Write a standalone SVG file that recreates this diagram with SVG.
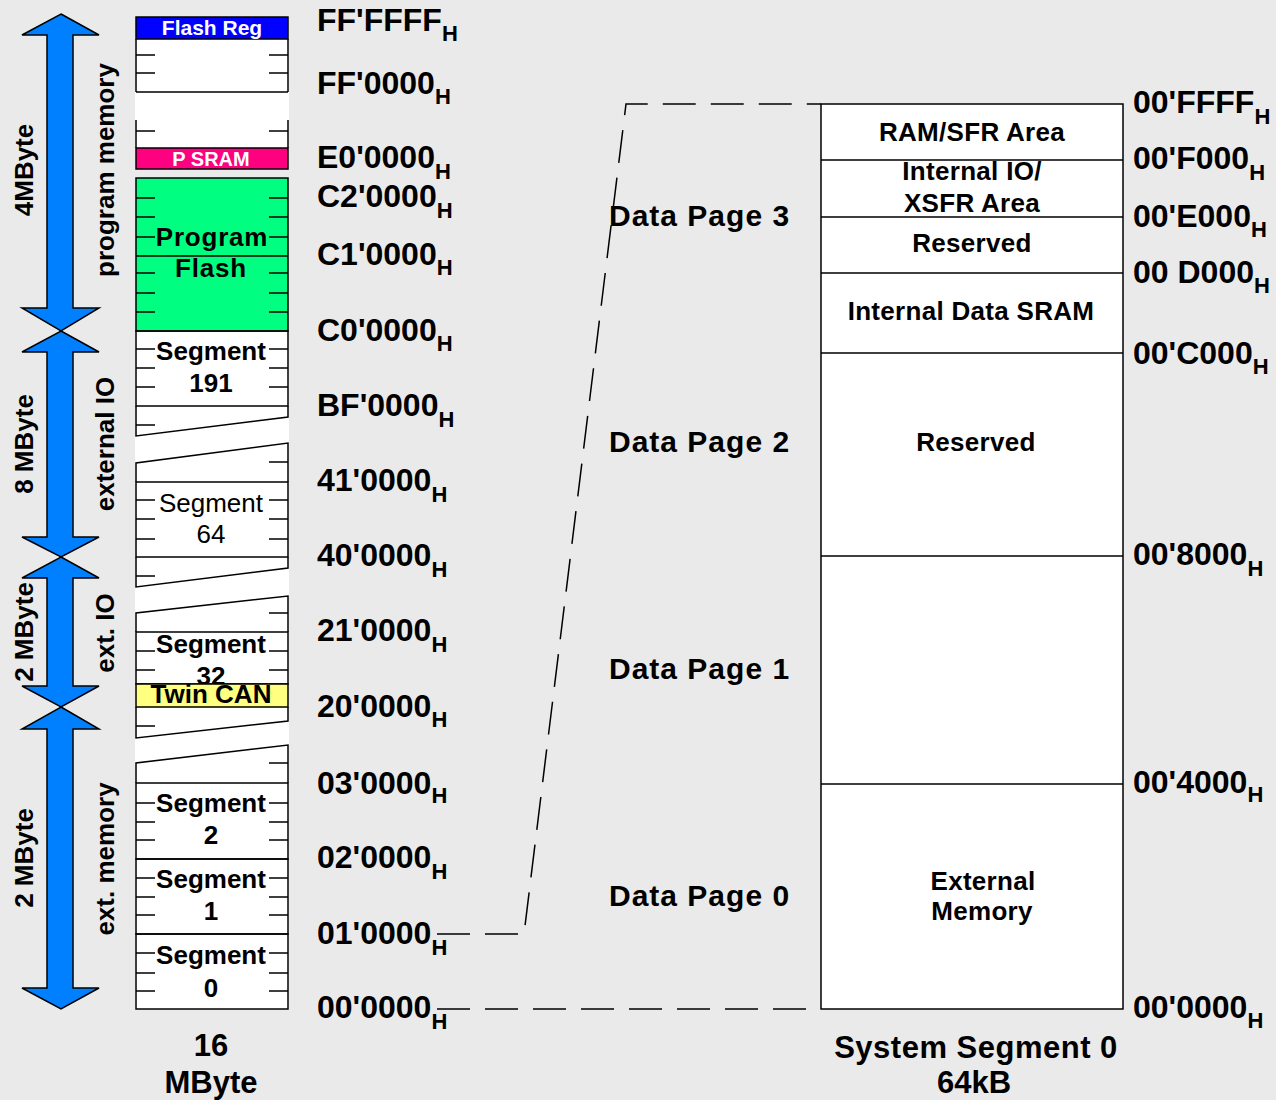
<svg xmlns="http://www.w3.org/2000/svg" width="1276" height="1100" viewBox="0 0 1276 1100">
<style>
text{font-family:"Liberation Sans",Arial,sans-serif;font-weight:bold;fill:#000}
.addr{font-size:32px}
.sub{font-size:22px}
.seg{font-size:26px;text-anchor:middle}
.reg{font-weight:normal}
.box{font-size:26px;text-anchor:middle;letter-spacing:0.3px}
.page{font-size:30px;letter-spacing:1px}
.side{font-size:26px;text-anchor:middle}
.ln{stroke:#000;stroke-width:1.5;fill:none}
.arrow{fill:#0080FF;stroke:#000;stroke-width:1.5;stroke-linejoin:miter}
.dash{stroke:#000;stroke-width:1.5;fill:none;stroke-dasharray:33 15}
</style>
<rect x="0" y="0" width="1276" height="1100" fill="#EAEAEA"/>

<g id="arrows">
<polygon class="arrow" points="61,14 99,35 73,35 73,308 99,308 61,331 22,308 47,308 47,35 22,35"/>
<polygon class="arrow" points="61,331 99,352 73,352 73,537 99,537 61,557 22,537 47,537 47,352 22,352"/>
<polygon class="arrow" points="61,557 99,578 73,578 73,686 99,686 61,707 22,686 47,686 47,578 22,578"/>
<polygon class="arrow" points="61,707 99,729 73,729 73,988 99,988 61,1009 22,988 47,988 47,729 22,729"/>
</g>

<g id="side-labels">
<text class="side" transform="translate(33,170) rotate(-90)">4MByte</text>
<text class="side" transform="translate(114,170) rotate(-90)">program memory</text>
<text class="side" transform="translate(33,444) rotate(-90)">8 MByte</text>
<text class="side" transform="translate(114,444) rotate(-90)">external IO</text>
<text class="side" transform="translate(33,632) rotate(-90)">2 MByte</text>
<text class="side" transform="translate(114,633) rotate(-90)">ext. IO</text>
<text class="side" transform="translate(33,858) rotate(-90)">2 MByte</text>
<text class="side" transform="translate(114,859) rotate(-90)">ext. memory</text>
</g>

<g id="memory-16MB">
<rect x="135" y="39" width="154" height="130" fill="#fff"/>
<rect x="135" y="331" width="154" height="678" fill="#fff"/>
<g id="flash-reg">
<rect x="136" y="17" width="152" height="22" fill="#0000FF" class="ln" style="fill:#0000FF"/>
<text x="212" y="35" style="font-size:21px;fill:#fff;text-anchor:middle">Flash Reg</text>
</g>
<g id="top-area">
<path class="ln" d="M136,39 V92 M288,39 V92 M136,92 H288 M136,120 V148 M288,120 V148"/>
<path class="ln" d="M136,55 h19 M269,55 h19 M136,73 h19 M269,73 h19 M136,131 h19 M269,131 h19"/>
</g>
<g id="p-sram">
<rect x="136" y="148" width="152" height="21" class="ln" style="fill:#FF0080"/>
<text x="211" y="166" style="font-size:20px;fill:#fff;text-anchor:middle">P SRAM</text>
</g>
<g id="program-flash">
<rect x="136" y="178" width="152" height="153" class="ln" style="fill:#00FF80"/>
<path class="ln" d="M136,256 H288 M136,198 h19 M269,198 h19 M136,217 h19 M269,217 h19 M136,237 h19 M269,237 h19 M136,273 h19 M269,273 h19 M136,293 h19 M269,293 h19 M136,312 h19 M269,312 h19"/>
<text class="seg" x="212" y="246" style="letter-spacing:0.8px">Program</text>
<text class="seg" x="211" y="277" style="letter-spacing:0.8px">Flash</text>
</g>
<g id="segment-191">
<rect x="136" y="331" width="152" height="75" class="ln"/>
<path class="ln" d="M136,349 h19 M269,349 h19 M136,368 h19 M269,368 h19 M136,387 h19 M269,387 h19"/>
<text class="seg" x="211" y="360">Segment</text>
<text class="seg" x="211" y="392">191</text>
</g>
<g id="break-1">
<path class="ln" d="M136,406 V436 L288,417 V406 M136,425 h19"/>
<path class="ln" d="M136,482 V463 L288,443 V482 M269,462 h19"/>
</g>
<g id="segment-64">
<rect x="136" y="482" width="152" height="75" class="ln"/>
<path class="ln" d="M136,500 h19 M269,500 h19 M136,519 h19 M269,519 h19 M136,539 h19 M269,539 h19"/>
<text class="seg reg" x="211" y="512">Segment</text>
<text class="seg reg" x="211" y="543">64</text>
</g>
<g id="break-2">
<path class="ln" d="M136,557 V587 L288,568 V557 M136,576 h19"/>
<path class="ln" d="M136,632 V613 L288,596 V632 M269,613 h19"/>
</g>
<g id="segment-32">
<rect x="136" y="632" width="152" height="52" class="ln"/>
<path class="ln" d="M136,651 h19 M269,651 h19 M136,670 h19 M269,670 h19"/>
<text class="seg" x="211" y="653">Segment</text>
<text class="seg" x="211" y="685">32</text>
</g>
<g id="twin-can">
<rect x="136" y="684" width="152" height="23" class="ln" style="fill:#FFFF80"/>
<text class="seg" x="211" y="703">Twin CAN</text>
</g>
<g id="break-3">
<path class="ln" d="M136,707 V738 L288,721 V707 M136,726 h19"/>
<path class="ln" d="M136,783 V763 L288,745 V783 M269,763 h19"/>
</g>
<g id="segment-2">
<rect x="136" y="783" width="152" height="76" class="ln"/>
<path class="ln" d="M136,803 h19 M269,803 h19 M136,822 h19 M269,822 h19 M136,840 h19 M269,840 h19"/>
<text class="seg" x="211" y="812">Segment</text>
<text class="seg" x="211" y="844">2</text>
</g>
<g id="segment-1">
<rect x="136" y="859" width="152" height="75" class="ln"/>
<path class="ln" d="M136,878 h19 M269,878 h19 M136,897 h19 M269,897 h19 M136,915 h19 M269,915 h19"/>
<text class="seg" x="211" y="888">Segment</text>
<text class="seg" x="211" y="920">1</text>
</g>
<g id="segment-0">
<rect x="136" y="934" width="152" height="75" class="ln"/>
<path class="ln" d="M136,953 h19 M269,953 h19 M136,973 h19 M269,973 h19 M136,991 h19 M269,991 h19"/>
<text class="seg" x="211" y="964">Segment</text>
<text class="seg" x="211" y="997">0</text>
</g>
<text x="211" y="1056" style="font-size:31px;text-anchor:middle">16</text>
<text x="211" y="1093" style="font-size:31px;text-anchor:middle">MByte</text>
</g>

<g id="addresses-left">
<text class="addr" x="317" y="31">FF'FFFF<tspan class="sub" dy="10">H</tspan></text>
<text class="addr" x="317" y="94">FF'0000<tspan class="sub" dy="10">H</tspan></text>
<text class="addr" x="317" y="168">E0'0000<tspan class="sub" dy="11">H</tspan></text>
<text class="addr" x="317" y="207">C2'0000<tspan class="sub" dy="11">H</tspan></text>
<text class="addr" x="317" y="265">C1'0000<tspan class="sub" dy="10">H</tspan></text>
<text class="addr" x="317" y="341">C0'0000<tspan class="sub" dy="10">H</tspan></text>
<text class="addr" x="317" y="416">BF'0000<tspan class="sub" dy="11">H</tspan></text>
<text class="addr" x="317" y="491">41'0000<tspan class="sub" dy="11">H</tspan></text>
<text class="addr" x="317" y="566">40'0000<tspan class="sub" dy="11">H</tspan></text>
<text class="addr" x="317" y="641">21'0000<tspan class="sub" dy="11">H</tspan></text>
<text class="addr" x="317" y="717">20'0000<tspan class="sub" dy="10">H</tspan></text>
<text class="addr" x="317" y="794">03'0000<tspan class="sub" dy="9">H</tspan></text>
<text class="addr" x="317" y="868">02'0000<tspan class="sub" dy="11">H</tspan></text>
<text class="addr" x="317" y="944">01'0000<tspan class="sub" dy="11">H</tspan></text>
<text class="addr" x="317" y="1018">00'0000<tspan class="sub" dy="11">H</tspan></text>
</g>

<g id="connectors">
<path class="dash" d="M437,934 H524 L626,104 H821"/>
<path class="dash" d="M437,1009 H821"/>
</g>

<g id="data-pages">
<text class="page" x="609" y="226">Data Page 3</text>
<text class="page" x="609" y="452">Data Page 2</text>
<text class="page" x="609" y="679">Data Page 1</text>
<text class="page" x="609" y="906">Data Page 0</text>
</g>

<g id="system-segment-0">
<rect x="821" y="104" width="302" height="905" fill="#fff" class="ln" style="fill:#fff"/>
<path class="ln" d="M821,160 H1123 M821,217 H1123 M821,273 H1123 M821,353 H1123 M821,556 H1123 M821,784 H1123"/>
<text class="box" x="972" y="141">RAM/SFR Area</text>
<text class="box" x="972" y="180">Internal IO/</text>
<text class="box" x="972" y="212">XSFR Area</text>
<text class="box" x="972" y="252">Reserved</text>
<text class="box" x="971" y="320">Internal Data SRAM</text>
<text class="box" x="976" y="451">Reserved</text>
<text class="box" x="983" y="890">External</text>
<text class="box" x="982" y="920">Memory</text>
<text x="976" y="1058" style="font-size:31px;text-anchor:middle;letter-spacing:0.5px">System Segment 0</text>
<text x="974" y="1093" style="font-size:31px;text-anchor:middle">64kB</text>
</g>

<g id="addresses-right">
<text class="addr" x="1133" y="113">00'FFFF<tspan class="sub" dy="11">H</tspan></text>
<text class="addr" x="1133" y="169">00'F000<tspan class="sub" dy="11">H</tspan></text>
<text class="addr" x="1133" y="227">00'E000<tspan class="sub" dy="10">H</tspan></text>
<text class="addr" x="1133" y="283">00 D000<tspan class="sub" dy="10">H</tspan></text>
<text class="addr" x="1133" y="364">00'C000<tspan class="sub" dy="10">H</tspan></text>
<text class="addr" x="1133" y="565">00'8000<tspan class="sub" dy="11">H</tspan></text>
<text class="addr" x="1133" y="793">00'4000<tspan class="sub" dy="9">H</tspan></text>
<text class="addr" x="1133" y="1018">00'0000<tspan class="sub" dy="10">H</tspan></text>
</g>
</svg>
